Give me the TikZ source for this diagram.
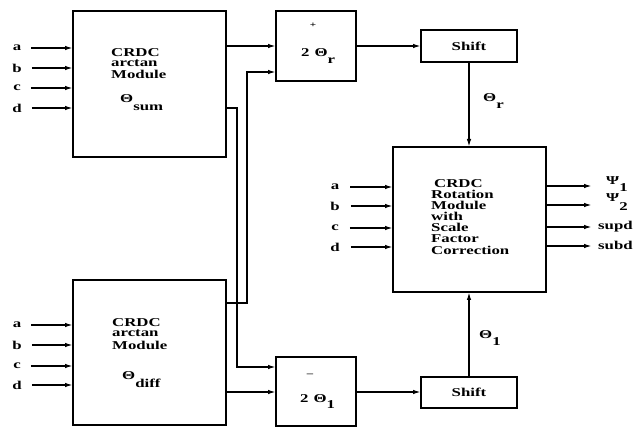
\documentclass[tikz,border=0pt]{standalone}
\usepackage{fontspec}
\setmainfont{Liberation Serif}[FakeStretch=1.4]
\usetikzlibrary{arrows.meta,calc}
\begin{document}
\begin{tikzpicture}[x=1pt,y=-1pt,
  box/.style={draw,line width=1.8pt,inner sep=0pt,outer sep=0pt,rectangle},
  conn/.style={line width=1.5pt},
  arr/.style={conn,-{Latex[length=8pt,width=4.5pt]}},
  txt/.style={font=\bfseries\fontsize{12}{11}\selectfont,inner sep=0pt},
  ln/.style={txt,anchor=base west},
  ]
\useasboundingbox (0,0) rectangle (635,427);
% boxes
\node[box,minimum width=153pt,minimum height=146pt] (sum) at (149.5,84) {};
\node[box,minimum width=153pt,minimum height=145pt] (diff) at (149.5,352.5) {};
\node[box,minimum width=80pt,minimum height=70pt] (plus) at (316,46) {};
\node[box,minimum width=80pt,minimum height=69pt] (minus) at (316,391.5) {};
\node[box,txt,minimum width=96pt,minimum height=32pt] (shT) at (469,46) {Shift};
\node[box,txt,minimum width=96pt,minimum height=31pt] (shB) at (469,392.5) {Shift};
\node[box,minimum width=153pt,minimum height=145pt] (rot) at (469.5,219.5) {};
% box texts
\node[ln] (s1) at (111,56.5) {CRDC};
\node[ln] (s2) at (111,67) {arctan};
\node[ln] (s3) at (111,79) {Module};
\node[ln] (thsum) at (120,103) {Θ\raisebox{-8pt}{sum}};
\node[ln] (d1) at (112,326.5) {CRDC};
\node[ln] (d2) at (112,337) {arctan};
\node[ln] (d3) at (112,349.5) {Module};
\node[ln] (thdiff) at (122,380) {Θ\raisebox{-8pt}{diff}};
\node[ln] (r1) at (434,187.5) {CRDC};
\node[ln] (r2) at (431,198.5) {Rotation};
\node[ln] (r3) at (431,210) {Module};
\node[ln] (r4) at (431,221) {with};
\node[ln] (r5) at (431,232) {Scale};
\node[ln] (r6) at (431,243) {Factor};
\node[ln] (r7) at (431,255) {Correction};
\node[txt,font=\bfseries\fontsize{8}{8}\selectfont] (plussign) at (313,25) {+};
\node[ln] (plust) at (301,57) {2\hspace{5pt}Θ\raisebox{-7pt}{r}};
\node[txt,font=\bfseries\fontsize{9}{9}\selectfont] (minussign) at (310,375) {–};
\node[ln] (minust) at (300,403) {2\hspace{5pt}Θ\raisebox{-6pt}{1}};
\node[ln] (thr) at (483,102) {Θ\raisebox{-7pt}{r}};
\node[ln] (th1) at (479,339) {Θ\raisebox{-7pt}{1}};
% inputs
\foreach \n/\t/\y in {sa/a/48, sb/b/68, sc/c/88, sd/d/108} {
  \node[txt] (\n) at (17,\y) {\t};
  \draw[arr] ([xshift=10pt]\n.east) -- (\n -| sum.west);
}
\foreach \n/\t/\y in {da/a/325, db/b/345, dc/c/366, dd/d/385} {
  \node[txt] (\n) at (17,\y) {\t};
  \draw[arr] ([xshift=10pt]\n.east) -- (\n -| diff.west);
}
\foreach \n/\t/\y in {ra/a/187, rb/b/206, rc/c/228, rd/d/247} {
  \node[txt] (\n) at (335,\y) {\t};
  \draw[arr] ([xshift=11pt]\n.east) -- (\n -| rot.west);
}
% outputs
\coordinate (o1) at (592,186);
\coordinate (o2) at (592,205);
\coordinate (o3) at (592,227);
\coordinate (o4) at (592,246);
\foreach \c in {o1,o2,o3,o4} { \draw[arr] (rot.east |- \c) -- (\c); }
\node[ln] (psi1) at (606,185) {Ψ\raisebox{-7pt}{1}};
\node[ln] (psi2) at (606,202) {Ψ\raisebox{-9pt}{2}};
\node[ln] (supd) at (598,230) {supd};
\node[ln] (subd) at (598,250) {subd};
% connectors
\coordinate (mw) at ([yshift=-0.5pt]minus.west);
\draw[arr] (sum.east |- plus) -- (plus.west);
\draw[arr] ([yshift=-24pt]sum.east) -- ++(11,0) |- ([yshift=24.5pt]minus.west);
\draw[arr] ([yshift=49.5pt]diff.east) -- ++(21,0) |- ([yshift=-26pt]plus.west);
\draw[arr] (diff.east |- mw) -- (mw);
\draw[arr] (plus.east) -- (plus.east -| shT.west);
\draw[arr] (minus.east |- mw) -- (mw -| shB.west);
\draw[arr] (shT.south) -- (shT.south |- rot.north);
\draw[arr] (shB.north) -- (shB.north |- rot.south);
\end{tikzpicture}
\end{document}
